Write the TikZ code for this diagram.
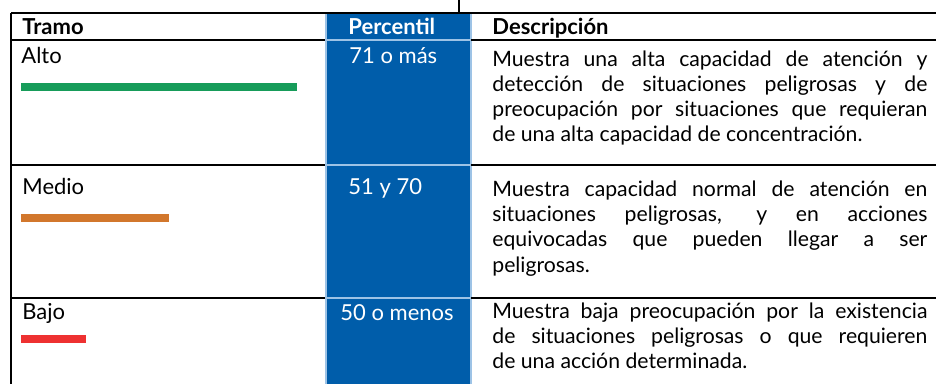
\documentclass[tikz,border=0pt]{standalone}
\usepackage{fontspec}
\setmainfont{Lato}
\usetikzlibrary{positioning}
\setlength\parindent{0pt}
\tolerance=10000
\hyphenpenalty=10000
\definecolor{pcblue}{HTML}{005DAA}
\definecolor{pcedge}{HTML}{9DC3E6}
\definecolor{barhigh}{HTML}{179C5A}
\definecolor{barmid}{HTML}{D2772C}
\definecolor{barlow}{HTML}{EE3131}

\begin{document}
\begin{tikzpicture}[x=0.5pt,y=-0.5pt,
    cell/.style={anchor=base west,inner sep=0,font=\fontsize{11}{13}\selectfont},
    headcell/.style={cell,font=\fontsize{11}{13}\selectfont\bfseries},
    desc/.style={anchor=north west,inner sep=0,text width=217.5pt,align=justify,
      font=\fontsize{10.6}{12.6}\selectfont},
    rule/.style={line width=1pt},
    edge/.style={pcedge,line width=1pt}]
    \useasboundingbox (0,0) rectangle (936,384);
    % Percentil column
    \fill[pcblue] (325,13) rectangle (471,384);
    \draw[edge] (325.5,13) -- (325.5,384) (470.5,13) -- (470.5,384);
    \draw[edge] (325,40.5) -- (471,40.5) (325,165) -- (471,165) (325,298) -- (471,298);
    % Rules
    \draw[line width=0.6pt] (459,0) -- (459,13);
    \draw[rule] (11,13) -- (936,13);
    \draw[rule] (11,13) -- (11,384);
    \foreach \y in {40.5,165,298} {
        \draw[rule] (11,\y) -- (325,\y);
        \draw[rule] (471,\y) -- (936,\y);
    }
    % Header
    \node[headcell] (tramo) at (22,35) {Tramo};
    \node[headcell,text=white] (perc) at (348,35) {Percentil};
    \node[headcell] (descr) at (492,35) {Descripción};
    % Alto
    \node[cell] (alto) at (21,64) {Alto};
    \fill[barhigh] (21,83) rectangle (297,91);
    \node[cell,text=white] (altop) at (349,64) {71 o más};
    \node[desc] (altod) at (492,48) {\strut Muestra una alta capacidad de atención y\linebreak
      detección de situaciones peligrosas y de\linebreak
      preocupación por situaciones que requieran\linebreak
      de una alta capacidad de concentración.};
    % Medio
    \node[cell] (medio) at (22,195) {Medio};
    \fill[barmid] (21,214) rectangle (169,222);
    \node[cell,text=white] (mediop) at (348,195) {51 y 70};
    \node[desc] (mediod) at (492,178.4) {\strut Muestra capacidad normal de atención en\linebreak
      situaciones peligrosas, y en acciones\linebreak
      equivocadas que pueden llegar a ser\linebreak
      peligrosas.};
    % Bajo
    \node[cell] (bajo) at (22,320) {Bajo};
    \fill[barlow] (21,335) rectangle (86,343);
    \node[cell,text=white] (bajop) at (340,321) {50 o menos};
    \node[desc] (bajod) at (492,300) {\strut Muestra baja preocupación por la existencia\linebreak
      de situaciones peligrosas o que requieren\linebreak
      de una acción determinada.};
\end{tikzpicture}
\end{document}
